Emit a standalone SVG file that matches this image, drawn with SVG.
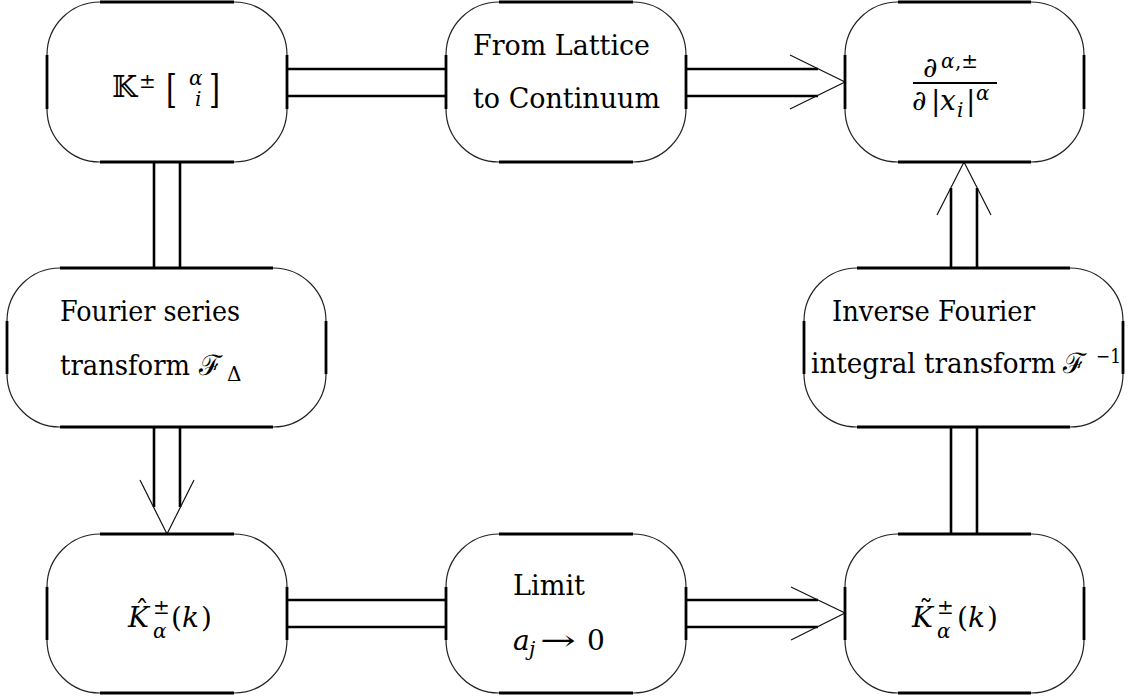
<svg xmlns="http://www.w3.org/2000/svg" width="1128" height="698" viewBox="0 0 1128 698">
<style>
.outline{fill:#fff;stroke:#222;stroke-width:1.2}
.edge{fill:none;stroke:#000;stroke-width:2.8}
.cl{fill:none;stroke:#000;stroke-width:2.6}
.head{fill:none;stroke:#111;stroke-width:1.2}
.node{font-family:'DejaVu Serif','Liberation Serif',serif;font-size:28px}
.it{font-style:italic}
.sm{font-size:20px}
</style>
<rect width="1128" height="698" fill="#fff"/>
<g id="connectors">
  <path class="cl" d="M287 69H446M287 96H446"/>
  <path class="cl" d="M686 69H818M686 96H818"/>
  <path class="head" d="M790 55L845 82L790 109"/>
  <path class="cl" d="M154 162V268M180 162V268"/>
  <path class="cl" d="M154 427V507M180 427V507"/>
  <path class="head" d="M140 480L167 534L194 480"/>
  <path class="cl" d="M287 600H446M287 627H446"/>
  <path class="cl" d="M686 600H818M686 627H818"/>
  <path class="head" d="M791 587L845 613L791 640"/>
  <path class="cl" d="M951 534V427M977 534V427"/>
  <path class="cl" d="M951 268V188M977 268V188"/>
  <path class="head" d="M937 215L964 162L991 215"/>
</g>
<g id="n-lattice-op" class="node">
  <rect class="outline" x="47" y="2" width="240" height="160" rx="53" ry="53"/>
  <path class="edge" d="M100 2H234M100 162H234M47 55V109M287 55V109"/>
  <text x="112" y="97" style="font-size:29px">𝕂</text>
  <text x="139" y="88" class="sm">±</text>
  <text x="166" y="102" style="font-size:40px" textLength="11" lengthAdjust="spacingAndGlyphs">[</text>
  <text x="189" y="85" class="it sm">α</text>
  <text x="195" y="106" class="it sm">i</text>
  <text x="209" y="102" style="font-size:40px" textLength="11" lengthAdjust="spacingAndGlyphs">]</text>
</g>
<g id="n-from-lattice" class="node">
  <rect class="outline" x="446" y="2" width="240" height="160" rx="53" ry="53"/>
  <path class="edge" d="M499 2H633M499 162H633M446 55V109M686 55V109"/>
  <text x="473" y="55" textLength="177" lengthAdjust="spacingAndGlyphs">From Lattice</text>
  <text x="473" y="108" textLength="187" lengthAdjust="spacingAndGlyphs">to Continuum</text>
</g>
<g id="n-frac-deriv" class="node">
  <rect class="outline" x="845" y="2" width="239" height="160" rx="53" ry="53"/>
  <path class="edge" d="M898 2H1031M898 162H1031M845 55V109M1084 55V109"/>
  <text x="923" y="77">∂</text>
  <text x="941" y="68" class="it sm">α</text>
  <text x="955" y="68" class="sm">,±</text>
  <line x1="913" y1="83" x2="997" y2="83" stroke="#000" stroke-width="2.2"/>
  <text x="912" y="110">∂</text>
  <text x="931" y="110">|</text>
  <text x="940" y="110" class="it">x</text>
  <text x="957" y="117" class="it sm">i</text>
  <text x="966" y="110">|</text>
  <text x="976" y="100" class="it sm">α</text>
</g>
<g id="n-fourier-series" class="node">
  <rect class="outline" x="7" y="268" width="319" height="159" rx="53" ry="53"/>
  <path class="edge" d="M60 268H273M60 427H273M7 321V374M326 321V374"/>
  <text x="60" y="321" textLength="180" lengthAdjust="spacingAndGlyphs">Fourier series</text>
  <text x="60" y="375" textLength="130" lengthAdjust="spacingAndGlyphs">transform</text>
  <text x="199" y="375">ℱ</text>
  <text x="227" y="381" class="sm">Δ</text>
</g>
<g id="n-inverse-fourier" class="node">
  <rect class="outline" x="804" y="268" width="319" height="159" rx="53" ry="53"/>
  <path class="edge" d="M857 268H1070M857 427H1070M804 321V374M1123 321V374"/>
  <text x="832" y="321" textLength="203" lengthAdjust="spacingAndGlyphs">Inverse Fourier</text>
  <text x="811" y="373" textLength="245" lengthAdjust="spacingAndGlyphs">integral transform</text>
  <text x="1063" y="373">ℱ</text>
  <text x="1096" y="363" class="sm" textLength="25" lengthAdjust="spacingAndGlyphs">−1</text>
</g>
<g id="n-khat" class="node">
  <rect class="outline" x="47" y="534" width="240" height="159" rx="53" ry="53"/>
  <path class="edge" d="M100 534H234M100 693H234M47 587V640M287 587V640"/>
  <text x="128" y="627" class="it">K</text>
  <text x="135" y="620">ˆ</text>
  <text x="153" y="614" class="sm">±</text>
  <text x="153" y="638" class="it sm">α</text>
  <text x="171" y="627">(</text>
  <text x="182" y="627" class="it">k</text>
  <text x="201" y="627">)</text>
</g>
<g id="n-limit" class="node">
  <rect class="outline" x="446" y="534" width="240" height="159" rx="53" ry="53"/>
  <path class="edge" d="M499 534H633M499 693H633M446 587V640M686 587V640"/>
  <text x="513" y="595" textLength="72" lengthAdjust="spacingAndGlyphs">Limit</text>
  <text x="513" y="650" class="it">a</text>
  <text x="529" y="656" class="it sm">j</text>
  <text x="540" y="650" textLength="36" lengthAdjust="spacingAndGlyphs">→</text>
  <text x="587" y="650">0</text>
</g>
<g id="n-ktilde" class="node">
  <rect class="outline" x="845" y="534" width="239" height="159" rx="53" ry="53"/>
  <path class="edge" d="M898 534H1031M898 693H1031M845 587V640M1084 587V640"/>
  <text x="912" y="627" class="it">K</text>
  <text x="919" y="620">˜</text>
  <text x="937" y="614" class="sm">±</text>
  <text x="937" y="638" class="it sm">α</text>
  <text x="957" y="627">(</text>
  <text x="968" y="627" class="it">k</text>
  <text x="987" y="627">)</text>
</g>
</svg>
